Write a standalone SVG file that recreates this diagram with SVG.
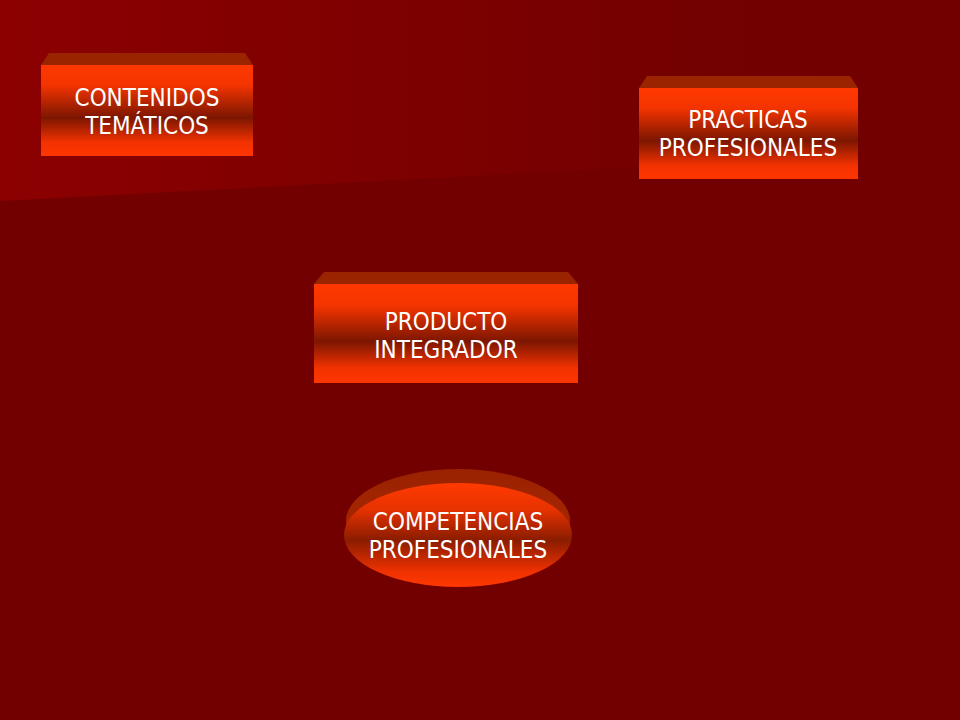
<svg xmlns="http://www.w3.org/2000/svg" width="960" height="720" viewBox="0 0 960 720">
<defs>
<linearGradient id="bgTop" x1="0" y1="0" x2="1" y2="0">
<stop offset="0" stop-color="#8c0000"/>
<stop offset="0.7" stop-color="#740000"/>
<stop offset="1" stop-color="#720000"/>
</linearGradient>
<linearGradient id="front" x1="0" y1="0" x2="0" y2="1">
<stop offset="0" stop-color="#ff3800"/>
<stop offset="0.22" stop-color="#f43400"/>
<stop offset="0.58" stop-color="#7c1600"/>
<stop offset="0.85" stop-color="#f23200"/>
<stop offset="1" stop-color="#ff3600"/>
</linearGradient>
<linearGradient id="oval" x1="0" y1="0" x2="0" y2="1">
<stop offset="0" stop-color="#ff3a00"/>
<stop offset="0.25" stop-color="#e83200"/>
<stop offset="0.55" stop-color="#8a1c00"/>
<stop offset="0.85" stop-color="#ee3200"/>
<stop offset="1" stop-color="#ff3800"/>
</linearGradient>
<linearGradient id="cap" x1="0" y1="0" x2="0" y2="1">
<stop offset="0" stop-color="#9a2200"/>
<stop offset="1" stop-color="#b02a00"/>
</linearGradient>
</defs>
<style>
.bevel{fill:#9a2400;}
.face{fill:url(#front);}
.lbl{font-family:"DejaVu Sans Condensed","Liberation Sans",Arial,sans-serif;font-size:24px;fill:#ffffff;text-anchor:middle;}
</style>
<rect x="0" y="0" width="960" height="720" fill="#720000"/>
<polygon points="0,0 960,0 960,150 0,201" fill="url(#bgTop)"/>
<g id="contenidos">
<polygon class="bevel" points="49,53 245,53 253,65 41,65"/>
<rect class="face" x="41" y="65" width="212" height="91"/>
<text class="lbl" x="147" y="106">CONTENIDOS</text>
<text class="lbl" x="147" y="134">TEMÁTICOS</text>
</g>
<g id="practicas">
<polygon class="bevel" points="647,76 850,76 858,88 639,88"/>
<rect class="face" x="639" y="88" width="219" height="91"/>
<text class="lbl" x="748" y="128">PRACTICAS</text>
<text class="lbl" x="748" y="156">PROFESIONALES</text>
</g>
<g id="producto">
<polygon class="bevel" points="324,272 568,272 578,284 314,284"/>
<rect class="face" x="314" y="284" width="264" height="99"/>
<text class="lbl" x="446" y="330">PRODUCTO</text>
<text class="lbl" x="446" y="358">INTEGRADOR</text>
</g>
<g id="competencias">
<ellipse cx="458" cy="521" rx="112" ry="52" fill="url(#cap)"/>
<ellipse cx="458" cy="535" rx="114" ry="52" fill="url(#oval)"/>
<text class="lbl" x="458" y="530">COMPETENCIAS</text>
<text class="lbl" x="458" y="558">PROFESIONALES</text>
</g>
<g id="connectors"></g>
</svg>
